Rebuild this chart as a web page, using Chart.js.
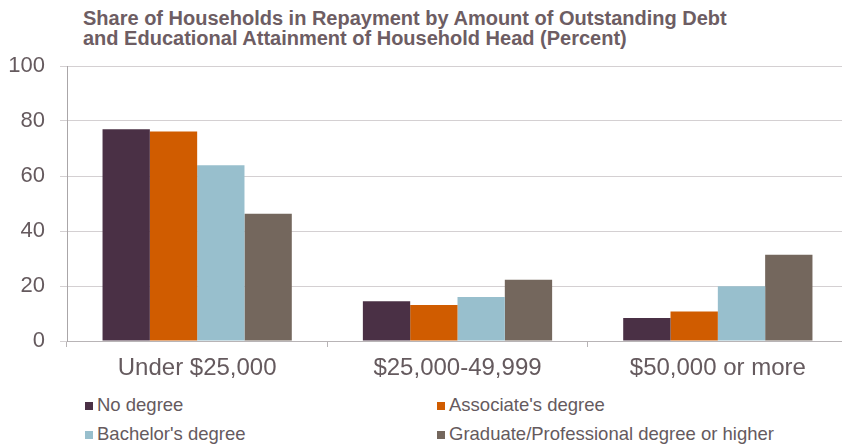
<!DOCTYPE html>
<html>
<head>
<meta charset="utf-8">
<script src="https://cdn.jsdelivr.net/npm/chart.js@4.4.1/dist/chart.umd.min.js"></script>
<style>
  html, body { margin: 0; padding: 0; background: #fff; overflow: hidden; }
  #wrap { position: relative; width: 842px; height: 445px; overflow: hidden; font-family: "Liberation Sans", Arial, sans-serif; }
  #title { position: absolute; left: 83px; top: 9px; font-weight: bold; font-size: 20px; line-height: 19.5px; color: #6d5d63; white-space: nowrap; }
  #chartBox { position: absolute; left: 0; top: 0; width: 860px; height: 390px; }
  .leg { position: absolute; font-size: 18.5px; line-height: 20px; color: #655a5e; white-space: nowrap; }
  .leg i { display: inline-block; width: 8px; height: 8px; margin-right: 4px; vertical-align: 1px; }
</style>
</head>
<body>
<div id="wrap">
  <div id="title">Share of Households in Repayment by Amount of Outstanding Debt<br>and Educational Attainment of Household Head (Percent)</div>
  <div id="chartBox"><canvas id="c" width="860" height="390"></canvas></div>
  <div id="legend"></div>
</div>
<script>
const categories = ["Under $25,000", "$25,000-49,999", "$50,000 or more"];
const seriesNames = ["No degree", "Associate's degree", "Bachelor's degree", "Graduate/Professional degree or higher"];
const noDegree = [77.0, 14.5, 8.4];
const associate = [76.2, 13.1, 10.7];
const bachelor = [63.9, 16.0, 19.9];
const graduate = [46.3, 22.3, 31.4];
const yTicks = [0, 20, 40, 60, 80, 100];

const colors = ["#4a3045", "#d05c00", "#98bfcd", "#74675d"];
const values = [noDegree, associate, bachelor, graduate];

const datasets = seriesNames.map((name, i) => ({
  label: name,
  data: values[i],
  backgroundColor: colors[i],
  borderWidth: 0,
  barPercentage: 1.0,
  categoryPercentage: 0.727
}));

const tickColor = "#655a5e";
const chart = new Chart(document.getElementById("c"), {
  type: "bar",
  data: { labels: categories, datasets },
  options: {
    responsive: false,
    animation: false,
    devicePixelRatio: 1,
    layout: { padding: { top: 66, right: 12, left: 0, bottom: 0 } },
    plugins: { legend: { display: false }, tooltip: { enabled: false }, title: { display: false } },
    scales: {
      x: {
        grid: { display: true, drawOnChartArea: false, drawTicks: true, tickLength: 6, color: "#b8b4b6", offset: true },
        border: { display: true, color: "#b8b4b6", width: 1 },
        ticks: { color: tickColor, font: { family: "Liberation Sans", size: 24 }, padding: 7, maxRotation: 0 },
        afterFit: (s) => { s.height = 390 - 341; }
      },
      y: {
        min: 0, max: 100,
        afterBuildTicks: (s) => { s.ticks = yTicks.map(v => ({ value: v })); },
        grid: { color: "#d4d0d2", lineWidth: 1, drawTicks: true, tickLength: 7 },
        border: { display: true, color: "#aaa6a8", width: 1 },
        ticks: { color: tickColor, font: { family: "Liberation Sans", size: 22 }, padding: 15 },
        afterFit: (s) => { s.width = 67; }
      }
    }
  }
});

// HTML legend built from the datasets
const legendPos = [
  { left: 85, top: 395 }, { left: 437, top: 395 },
  { left: 85, top: 424 }, { left: 437, top: 424 }
];
const legend = document.getElementById("legend");
chart.data.datasets.forEach((ds, i) => {
  const d = document.createElement("div");
  d.className = "leg";
  d.style.left = legendPos[i].left + "px";
  d.style.top = legendPos[i].top + "px";
  const box = document.createElement("i");
  box.style.background = ds.backgroundColor;
  d.appendChild(box);
  d.appendChild(document.createTextNode(ds.label));
  legend.appendChild(d);
});
</script>
</body>
</html>
